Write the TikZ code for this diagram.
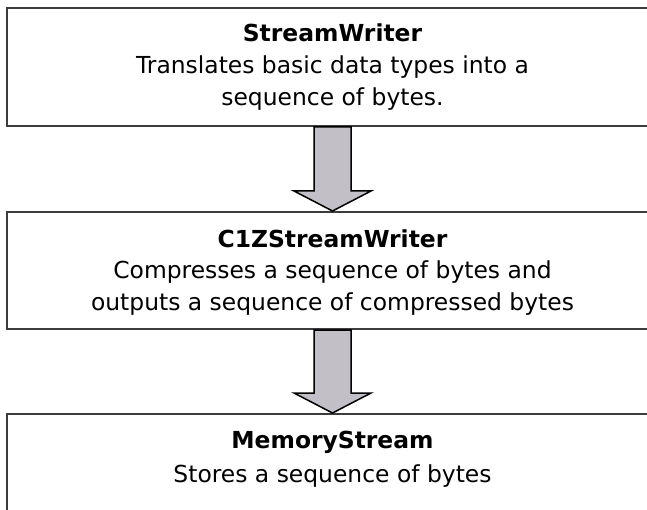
\documentclass[tikz,border=0pt]{standalone}
\usepackage{fontspec}
\setmainfont{DejaVu Sans}
\usetikzlibrary{calc}
\definecolor{arrowfill}{RGB}{194,192,198}
\definecolor{boxline}{RGB}{60,60,60}
\tikzset{
  box/.style={draw=boxline, line width=2bp, fill=white, rectangle, anchor=north west, inner sep=0pt},
  titletext/.style={font=\fontsize{23.5}{23.5}\selectfont\bfseries, inner sep=0pt, anchor=base},
  bodytext/.style={font=\fontsize{23.5}{23.5}\selectfont, inner sep=0pt, anchor=base},
  blockarrow/.style={draw=black, line width=1.5bp, fill=arrowfill, line join=miter}
}
\begin{document}
\begin{tikzpicture}[x=1bp,y=-1bp]
\useasboundingbox (0,0) rectangle (647,510);
\clip (0,0) rectangle (647,510);
\fill[white] (0,0) rectangle (647,510);
% boxes
\node[box, minimum width=651bp, minimum height=118bp] (b1) at (6,7) {};
\node[box, minimum width=651bp, minimum height=117bp] (b2) at (6,211) {};
\node[box, minimum width=651bp, minimum height=140bp] (b3) at (6,413) {};
% texts
\node[titletext] (t1) at ([yshift=-35bp]b1.north) {StreamWriter};
\node[bodytext] (d1a) at ([yshift=-67bp]b1.north) {Translates basic data types into a};
\node[bodytext] (d1b) at ([yshift=-99bp]b1.north) {sequence of bytes.};
\node[titletext] (t2) at ([yshift=-36bp]b2.north) {C1ZStreamWriter};
\node[bodytext] (d2a) at ([yshift=-67bp]b2.north) {Compresses a sequence of bytes and};
\node[bodytext] (d2b) at ([yshift=-99bp]b2.north) {outputs a sequence of compressed bytes};
\node[titletext] (t3) at ([yshift=-35bp]b3.north) {MemoryStream};
\node[bodytext] (d3a) at ([yshift=-69bp]b3.north) {Stores a sequence of bytes};
% block arrows
\foreach \s/\e in {b1/b2, b2/b3}{
  \draw[blockarrow]
    ([xshift=-18.5bp]\s.south) --
    ([xshift=-18.5bp,yshift=20bp]\e.north) --
    ([xshift=-38.5bp,yshift=20bp]\e.north) --
    (\e.north) --
    ([xshift=38.5bp,yshift=20bp]\e.north) --
    ([xshift=18.5bp,yshift=20bp]\e.north) --
    ([xshift=18.5bp]\s.south) -- cycle;
}
\end{tikzpicture}
\end{document}
